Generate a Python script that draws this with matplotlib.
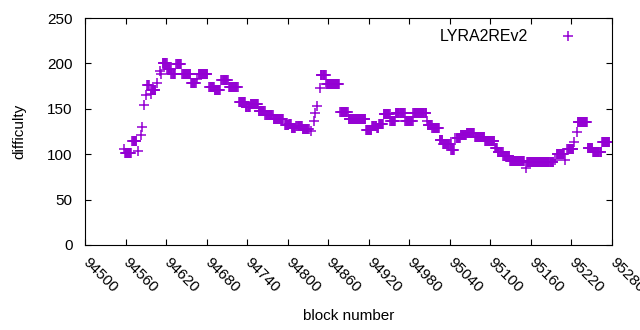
import numpy as np
import matplotlib
matplotlib.use('Agg')
import matplotlib.pyplot as plt

plt.rcParams['font.family'] = ['Liberation Sans', 'DejaVu Sans']

# difficulty, as runs of consecutive blocks with the same value
run_start = [94558, 94559, 94570, 94579, 94583, 94585, 94588, 94590, 94592, 94597,
             94598, 94607, 94611, 94613, 94615, 94622, 94628, 94635, 94644, 94657,
             94666, 94668, 94684, 94692, 94702, 94713, 94728, 94738, 94745, 94757,
             94767, 94779, 94796, 94802, 94806, 94813, 94822, 94835, 94839, 94841,
             94844, 94848, 94849, 94857, 94878, 94890, 94916, 94925, 94932, 94935,
             94942, 94952, 94960, 94974, 94986, 95006, 95007, 95014, 95025, 95030,
             95042, 95048, 95050, 95056, 95065, 95077, 95092, 95107, 95111, 95119,
             95129, 95152, 95154, 95196, 95198, 95210, 95214, 95224, 95228, 95229,
             95244, 95252, 95265]
run_len = [1, 10, 7, 1, 1, 1, 1, 1, 3, 1,
           7, 1, 1, 1, 7, 6, 6, 8, 13, 8,
           1, 14, 8, 9, 10, 14, 10, 7, 12, 10,
           12, 15, 6, 4, 6, 9, 10, 1, 1, 1,
           1, 1, 8, 20, 12, 26, 9, 7, 3, 7,
           10, 8, 14, 12, 20, 1, 7, 11, 5, 12,
           5, 1, 6, 9, 12, 15, 15, 4, 8, 10,
           22, 1, 40, 1, 12, 1, 10, 1, 1, 15,
           8, 13, 12]
run_value = [106, 101, 114.5, 104, 121, 130, 154, 165, 176, 166,
             171, 178, 192, 188, 200, 194, 188, 199.5, 188, 178.5,
             183, 188, 174, 170.5, 181.5, 174, 158, 151.5, 155, 148,
             143, 139, 132, 133, 129, 131, 128, 125.5, 136.5, 145,
             153, 172.5, 187, 177, 146, 139, 126.6, 131, 129, 133,
             144, 137, 145.5, 137, 145.5, 136.5, 132, 128.5, 116, 111,
             104.6, 117.5, 118, 121, 123, 119, 115, 107, 102, 98,
             93, 85, 91, 93.6, 100.5, 93.6, 106, 113, 125, 135,
             107, 102, 113]

xticks = list(range(94500, 95281, 60))
yticks = [0, 50, 100, 150, 200, 250]

blocks = np.concatenate([np.arange(s, s + n) for s, n in zip(run_start, run_len)])
difficulty = np.repeat(run_value, run_len)

fig = plt.figure(figsize=(6.4, 3.3), dpi=100)
ax = fig.add_axes([85 / 640, 85 / 330, 527 / 640, 227 / 330])

ax.plot(blocks, difficulty, linestyle='none', marker='+', markersize=6.5,
        markeredgewidth=1.1, color='#9400d3', label='LYRA2REv2')

ax.set_xlim(94500, 95280)
ax.set_ylim(0, 250)
ax.set_xticks(xticks)
ax.set_yticks(yticks)
ax.tick_params(direction='in', length=4.5, width=0.8, top=True, right=True,
               labelsize=11)
ax.tick_params(axis='y', pad=9)
ax.tick_params(axis='x', pad=11)
for lab in ax.get_xticklabels():
    lab.set_rotation(-45)
    lab.set_rotation_mode('anchor')
    lab.set_ha('left')
    lab.set_va('center')
for sp in ax.spines.values():
    sp.set_linewidth(0.8)

ax.set_xlabel('block number', fontsize=11, labelpad=10)
ax.set_ylabel('difficulty', fontsize=11, labelpad=15)

ax.legend(loc='upper right', frameon=False, markerfirst=False, fontsize=11.5,
          handlelength=1.2, handletextpad=1.9, borderaxespad=0.3,
          bbox_to_anchor=(0.955, 1.0))

fig.savefig('out.png', dpi=100)
